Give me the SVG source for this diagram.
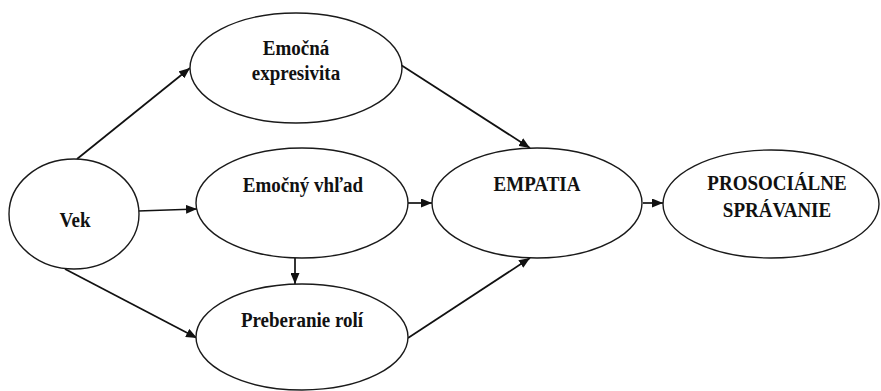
<svg xmlns="http://www.w3.org/2000/svg" width="881" height="391" viewBox="0 0 881 391">
  <style>
    .node ellipse { fill: #ffffff; stroke: #1a1a1a; stroke-width: 1.4; }
    .node text { font-family: "Liberation Serif", "Times New Roman", serif; font-weight: bold; font-size: 19px; fill: #111111; text-anchor: middle; }
    .edges path { fill: none; stroke: #111111; stroke-width: 1.7; marker-end: url(#arrow); }
  </style>
  <defs>
    <marker id="arrow" markerUnits="userSpaceOnUse" markerWidth="11" markerHeight="9" refX="11" refY="4.5" orient="auto">
      <path d="M0,0 L11,4.5 L0,9 z" fill="#111111"/>
    </marker>
  </defs>
  <rect width="881" height="391" fill="#ffffff"/>

  <g class="edges" id="connectors">
    <path d="M77,159 L190,68"/>
    <path d="M138,211 L197,209"/>
    <path d="M65,269 L197,338"/>
    <path d="M401,65 L530,148"/>
    <path d="M408,203 L432,203"/>
    <path d="M408,338 L530,258"/>
    <path d="M643,203 L663,203"/>
    <path d="M295,258 L295,284"/>
  </g>

  <!-- labels are set in a slightly tall face: each is stretched vertically from its baseline -->
  <g class="node" id="vek">
    <ellipse cx="74" cy="214" rx="65" ry="55"/>
    <text transform="translate(75,227) scale(1,1.15)">Vek</text>
  </g>
  <g class="node" id="expresivita">
    <ellipse cx="296" cy="68" rx="106" ry="55"/>
    <text transform="translate(296,55) scale(1,1.15)">Emočná</text>
    <text transform="translate(296,80) scale(1,1.15)">expresivita</text>
  </g>
  <g class="node" id="vhlad">
    <ellipse cx="302" cy="203" rx="106" ry="55"/>
    <text transform="translate(303,192) scale(1,1.15)">Emočný vhľad</text>
  </g>
  <g class="node" id="preberanie">
    <ellipse cx="302" cy="337" rx="106" ry="53"/>
    <text transform="translate(302,327) scale(1,1.15)">Preberanie rolí</text>
  </g>
  <g class="node" id="empatia">
    <ellipse cx="537" cy="203" rx="105" ry="55"/>
    <text transform="translate(537,191) scale(1,1.15)">EMPATIA</text>
  </g>
  <g class="node" id="prosocialne">
    <ellipse cx="771" cy="204" rx="108" ry="54"/>
    <text transform="translate(777,190) scale(1,1.15)">PROSOCIÁLNE</text>
    <text transform="translate(777,217) scale(1,1.15)">SPRÁVANIE</text>
  </g>
</svg>
